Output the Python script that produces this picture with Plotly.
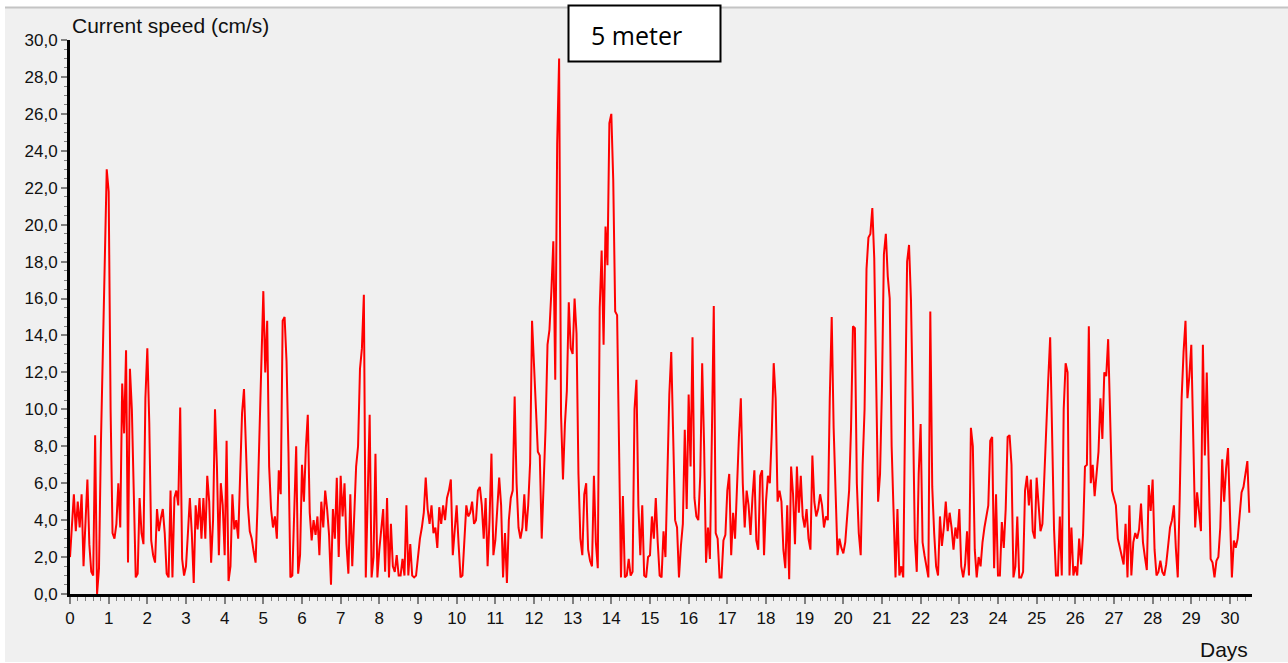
import plotly.graph_objects as go

# Current speed at 5 m depth, one reading every 0.05 day (cm/s)
step_days = 0.05

week1 = [
    [2.0, 4.0, 5.4, 3.4, 5.0, 3.6, 5.4, 1.5, 4.2, 6.2, 2.7, 1.2, 1.0, 8.6, 0.0, 1.4, 8.2, 13.3, 17.6, 23.0],
    [21.8, 10.0, 3.3, 3.0, 3.8, 6.0, 3.6, 11.4, 8.7, 13.2, 1.7, 12.2, 10.0, 5.4, 0.9, 1.1, 5.2, 3.3, 2.7, 10.6],
    [13.3, 9.3, 2.9, 2.1, 1.7, 4.6, 3.4, 4.1, 4.6, 3.3, 1.1, 0.9, 5.6, 0.9, 5.2, 5.6, 4.8, 10.1, 1.9, 1.0],
    [1.5, 3.3, 5.2, 3.3, 0.6, 4.8, 3.5, 5.2, 3.0, 5.2, 3.0, 6.4, 5.0, 1.7, 4.0, 10.0, 6.9, 2.1, 6.0, 4.8],
    [2.1, 8.3, 0.7, 1.5, 5.4, 3.5, 4.0, 3.0, 6.2, 9.8, 11.1, 8.3, 4.8, 3.4, 3.0, 2.3, 1.7, 4.8, 8.4, 13.0],
    [16.4, 12.0, 14.8, 6.9, 4.6, 3.6, 4.2, 3.0, 6.7, 5.4, 14.8, 15.0, 12.6, 7.7, 0.9, 1.0, 4.2, 8.0, 1.1, 2.1],
    [7.0, 5.0, 7.9, 9.7, 4.4, 2.9, 4.0, 3.2, 4.2, 2.1, 5.0, 3.6, 5.6, 4.6, 3.2, 0.5, 4.6, 3.0, 6.3, 2.0],
]
week2 = [
    [6.4, 4.2, 6.0, 2.7, 1.1, 5.4, 1.5, 4.0, 6.9, 8.0, 12.2, 13.3, 16.2, 0.9, 5.6, 9.7, 0.9, 2.0, 7.6, 0.9],
    [2.4, 3.6, 4.6, 1.2, 5.2, 0.9, 3.8, 1.5, 1.2, 2.1, 1.0, 1.0, 1.9, 1.0, 4.8, 1.0, 2.7, 1.0, 0.9, 1.0],
    [2.0, 3.0, 3.6, 4.4, 6.3, 4.6, 3.8, 4.8, 3.3, 3.6, 2.5, 4.7, 3.8, 4.8, 4.0, 5.2, 5.6, 6.2, 2.1, 3.3],
    [4.8, 2.7, 0.9, 1.0, 3.0, 4.8, 4.2, 4.4, 5.0, 3.8, 4.0, 5.6, 5.8, 4.8, 3.0, 5.2, 1.5, 4.0, 7.6, 2.1],
    [2.9, 4.8, 6.3, 4.8, 0.9, 3.3, 0.6, 4.0, 5.2, 5.6, 10.7, 6.0, 3.6, 3.0, 3.6, 5.4, 3.4, 4.8, 7.1, 14.8],
    [12.3, 10.2, 7.7, 7.5, 3.0, 6.0, 9.0, 13.5, 14.3, 16.4, 19.1, 11.6, 24.4, 29.0, 9.7, 6.2, 9.2, 11.0, 15.8, 13.3],
    [13.0, 16.0, 14.1, 6.5, 3.0, 2.1, 5.4, 6.0, 2.4, 1.8, 1.5, 6.4, 2.8, 1.4, 15.5, 18.6, 13.5, 19.9, 17.8, 25.5],
]
week3 = [
    [26.0, 22.4, 15.3, 15.1, 8.3, 0.9, 5.3, 0.9, 1.0, 1.9, 1.0, 1.2, 10.0, 11.6, 4.8, 2.1, 4.8, 1.0, 0.9, 2.0],
    [2.1, 4.2, 3.0, 5.2, 2.8, 1.0, 0.9, 3.4, 2.0, 7.1, 10.8, 13.1, 7.9, 4.0, 3.6, 0.9, 2.6, 3.8, 8.9, 4.6],
    [10.8, 6.9, 13.9, 5.2, 4.2, 4.0, 6.4, 12.5, 8.0, 1.7, 3.6, 1.9, 8.5, 15.6, 3.3, 3.0, 0.9, 0.9, 2.9, 3.2],
    [5.6, 6.5, 2.1, 4.4, 3.0, 6.0, 8.5, 10.6, 6.0, 3.6, 5.6, 4.8, 3.2, 5.2, 6.7, 2.9, 2.4, 6.4, 6.7, 2.1],
    [5.0, 6.4, 6.0, 8.7, 12.5, 10.6, 5.0, 5.6, 5.0, 2.4, 1.4, 4.8, 0.8, 6.9, 5.4, 2.7, 6.9, 4.4, 6.4, 4.2],
    [3.6, 4.6, 3.0, 2.4, 7.5, 5.0, 4.2, 4.6, 5.4, 4.8, 3.6, 4.2, 4.0, 10.6, 15.0, 9.0, 5.9, 2.1, 3.0, 2.5],
    [2.2, 2.8, 4.2, 5.6, 9.0, 14.5, 14.4, 6.0, 3.3, 2.1, 7.0, 10.0, 17.6, 19.3, 19.5, 20.9, 18.2, 11.6, 5.0, 6.5],
]
week4 = [
    [11.2, 18.4, 19.5, 17.2, 16.0, 8.0, 3.7, 0.9, 4.6, 1.0, 1.5, 0.9, 10.0, 18.0, 18.9, 15.9, 10.0, 3.0, 1.2, 6.5],
    [9.2, 2.8, 2.1, 1.5, 0.9, 15.3, 5.8, 3.3, 1.5, 1.0, 4.2, 2.6, 3.6, 5.0, 3.4, 4.4, 3.6, 2.4, 3.6, 3.0],
    [4.6, 1.5, 0.9, 1.6, 3.4, 1.0, 9.0, 8.0, 2.4, 0.9, 2.0, 1.5, 2.8, 3.6, 4.2, 4.8, 8.3, 8.5, 1.4, 5.4],
    [1.0, 1.0, 3.9, 2.5, 4.6, 8.5, 8.6, 7.0, 0.9, 1.5, 4.2, 0.9, 0.9, 1.2, 5.6, 6.4, 4.8, 6.2, 3.4, 3.0],
    [6.3, 4.6, 3.4, 3.8, 6.7, 9.0, 11.6, 13.9, 7.5, 3.5, 1.0, 1.0, 4.2, 1.0, 10.0, 12.5, 12.0, 1.0, 3.6, 1.0],
    [1.5, 1.0, 3.0, 1.6, 3.2, 6.9, 7.0, 14.5, 6.0, 7.0, 5.3, 6.4, 7.7, 10.6, 8.4, 12.0, 11.8, 13.8, 10.0, 5.6],
    [5.2, 4.8, 3.0, 2.5, 2.0, 1.6, 3.8, 0.9, 4.8, 1.0, 2.8, 3.3, 3.0, 3.5, 4.9, 2.8, 2.0, 1.3, 5.9, 4.5],
]
week5 = [
    [6.2, 2.4, 1.0, 1.2, 1.8, 1.2, 1.0, 1.6, 2.6, 3.6, 4.0, 4.8, 2.5, 0.9, 5.2, 10.6, 13.1, 14.8, 10.6, 11.8],
    [13.5, 9.0, 3.6, 5.5, 4.5, 3.4, 13.5, 7.5, 12.0, 6.0, 1.9, 1.7, 0.9, 1.8, 2.0, 3.6, 7.3, 5.0, 6.8, 7.9],
    [4.8, 0.9, 2.9, 2.5, 3.0, 4.5, 5.5, 5.8, 6.4, 7.2, 4.4],
]

y_tick_values = [0, 2, 4, 6, 8, 10, 12, 14, 16, 18, 20, 22, 24, 26, 28, 30]
y_tick_labels = ["0,0", "2,0", "4,0", "6,0", "8,0", "10,0", "12,0", "14,0", "16,0",
                 "18,0", "20,0", "22,0", "24,0", "26,0", "28,0", "30,0"]
x_tick_values = list(range(0, 31))

speed = [v for week in (week1, week2, week3, week4, week5) for day in week for v in day]
days = [round(i * step_days, 3) for i in range(len(speed))]

W, H = 1288, 663
L, R, T, B = 70, 1252, 40, 594  # plot area in pixels


def px(x):
    return (x - L) / (R - L)


def py(y):
    return (B - y) / (B - T)


fig = go.Figure(
    go.Scatter(x=days, y=speed, mode="lines",
               line=dict(color="#ff0000", width=2.0), hoverinfo="skip")
)

tick_font = dict(family="Liberation Sans, Arial, sans-serif", size=17, color="#111111")

fig.update_layout(
    width=W, height=H,
    margin=dict(l=L, r=W - R, t=T, b=H - B),
    paper_bgcolor="white",
    plot_bgcolor="rgba(0,0,0,0)",
    showlegend=False,
    xaxis=dict(
        range=[0, 30.57], tickmode="array", tickvals=x_tick_values,
        ticks="outside", ticklen=7, tickwidth=1.5, tickcolor="#808080",
        minor=dict(tickmode="linear", tick0=0, dtick=0.2, ticks="outside",
                   ticklen=4, tickwidth=1, tickcolor="#808080", showgrid=False),
        showline=True, linecolor="black", linewidth=3,
        showgrid=False, zeroline=False, tickfont=tick_font,
    ),
    yaxis=dict(
        range=[0, 30], tickmode="array", tickvals=y_tick_values, ticktext=y_tick_labels,
        ticks="outside", ticklen=6, tickwidth=1.5, tickcolor="#808080",
        minor=dict(tickmode="linear", tick0=0, dtick=0.5, ticks="outside",
                   ticklen=3, tickwidth=1, tickcolor="#808080", showgrid=False),
        showline=True, linecolor="black", linewidth=3,
        showgrid=False, zeroline=False, tickfont=tick_font,
    ),
    shapes=[
        dict(type="rect", xref="paper", yref="paper", layer="below",
             x0=px(5), x1=px(W + 5), y0=py(662), y1=py(8),
             fillcolor="#f0f0f0", line=dict(width=0)),
        dict(type="line", xref="paper", yref="paper", layer="below",
             x0=px(5), x1=px(W + 5), y0=py(7.5), y1=py(7.5),
             line=dict(color="#c4c4c4", width=2)),
        dict(type="rect", xref="paper", yref="paper",
             x0=px(568.5), x1=px(720.5), y0=py(61.5), y1=py(5.5),
             fillcolor="white", line=dict(color="black", width=2)),
    ],
    annotations=[
        dict(text="Current speed (cm/s)", xref="paper", yref="paper",
             x=px(70), y=py(25), xanchor="left", yanchor="middle", showarrow=False,
             font=dict(family="Liberation Sans, Arial, sans-serif", size=21, color="#111111")),
        dict(text="Days", xref="paper", yref="paper",
             x=px(1250), y=py(649), xanchor="right", yanchor="middle", showarrow=False,
             font=dict(family="Liberation Sans, Arial, sans-serif", size=21, color="#111111")),
        dict(text="5 meter", xref="paper", yref="paper",
             x=px(589), y=py(35), xanchor="left", yanchor="middle", showarrow=False,
             font=dict(family="Open Sans, sans-serif", size=25, color="black")),
    ],
)

fig.write_html("out.html")
